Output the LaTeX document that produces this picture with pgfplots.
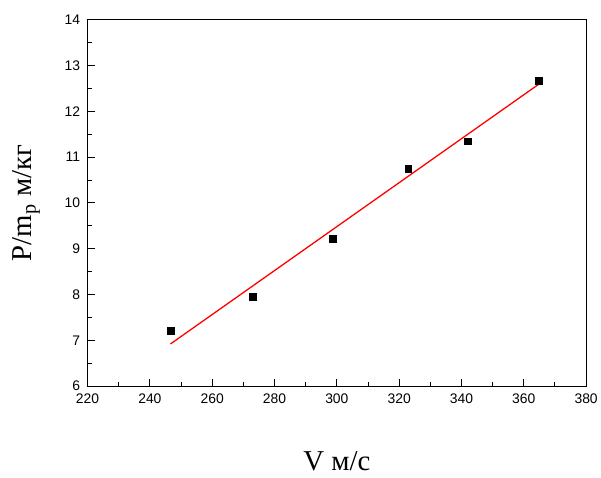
\documentclass[border=0pt]{standalone}
\usepackage{fontspec}
\setmainfont{Liberation Serif}
\newfontfamily\ticksfont{Liberation Sans}
\usepackage{pgfplots}
\pgfplotsset{compat=1.18}
\begin{document}
\begin{tikzpicture}
\begin{axis}[
scale only axis,
width=501bp, height=368bp,
xmin=220, xmax=380, ymin=6, ymax=14,
xtick={220,240,...,380}, ytick={6,7,...,14},
minor tick num=1,
tick pos=left, tick align=inside,
major tick length=7bp, minor tick length=4bp,
axis line style={line width=1.1bp},
every tick/.style={black, line width=1bp},
/pgf/number format/assume math mode=true,
ticklabel style={font=\ticksfont\fontsize{14}{16}\selectfont},
xticklabel style={yshift=-4bp},
yticklabel style={xshift=-4bp},
xlabel={V м/с},
ylabel={P/m$_{\mathrm{p}}$ м/кг},
xlabel style={font=\fontsize{29}{32}\selectfont, at={([yshift=-85bp]axis description cs:0.5,0)}, anchor=base},
ylabel style={font=\fontsize{29}{32}\selectfont, at={([xshift=-56bp]axis description cs:0,0.5)}, anchor=base},
]
\addplot[only marks, mark=square*, mark size=3.5bp, black] coordinates {
(246.6,7.22)
(273.1,7.96)
(298.6,9.22)
(322.9,10.74)
(342.0,11.35)
(364.7,12.67)
};
\addplot[red, line width=1.3bp] coordinates {
(246.6,6.92)
(364.7,12.59)
};
\end{axis}
\path ([xshift=-88bp,yshift=-92bp]current axis.south west) rectangle ([xshift=12bp,yshift=20bp]current axis.north east);
\end{tikzpicture}
\end{document}
